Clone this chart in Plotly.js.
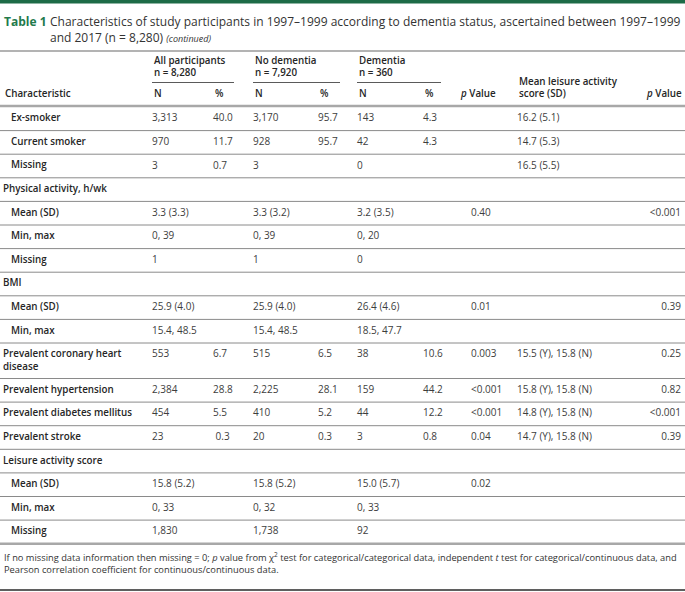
<!DOCTYPE html>
<html>
<head>
<meta charset="utf-8">
<script src="https://cdn.plot.ly/plotly-3.0.1.min.js"></script>
<style>html,body{margin:0;padding:0;background:#fff;}#chart{width:685px;height:592px;}</style>
</head>
<body>
<div id="chart"></div>
<script>
// ---------- DATA ----------
const characteristics = ["Ex-smoker","Current smoker","Missing","Physical activity, h/wk","Mean (SD)","Min, max","Missing","BMI","Mean (SD)","Min, max","Prevalent coronary heart<br>disease","Prevalent hypertension","Prevalent diabetes mellitus","Prevalent stroke","Leisure activity score","Mean (SD)","Min, max","Missing"];
const isSubItem = [true,true,true,false,true,true,true,false,true,true,false,false,false,false,false,true,true,true];
const allN     = ["3,313","970","3","","3.3 (3.3)","0, 39","1","","25.9 (4.0)","15.4, 48.5","553","2,384","454","23","","15.8 (5.2)","0, 33","1,830"];
const allPct   = ["40.0","11.7","0.7","","","","","","","","6.7","28.8","5.5","\u00a00.3","","","",""];
const noDemN   = ["3,170","928","3","","3.3 (3.2)","0, 39","1","","25.9 (4.0)","15.4, 48.5","515","2,225","410","20","","15.8 (5.2)","0, 32","1,738"];
const noDemPct = ["95.7","95.7","","","","","","","","","6.5","28.1","5.2","0.3","","","",""];
const demN     = ["143","42","0","","3.2 (3.5)","0, 20","0","","26.4 (4.6)","18.5, 47.7","38","159","44","3","","15.0 (5.7)","0, 33","92"];
const demPct   = ["4.3","4.3","","","","","","","","","10.6","44.2","12.2","0.8","","","",""];
const pValue   = ["","","","","0.40","","","","0.01","","0.003","<0.001","<0.001","0.04","","0.02","",""];
const meanLeisure = ["16.2 (5.1)","14.7 (5.3)","16.5 (5.5)","","","","","","","","15.5 (Y), 15.8 (N)","15.8 (Y), 15.8 (N)","14.8 (Y), 15.8 (N)","14.7 (Y), 15.8 (N)","","","",""];
const pValueLeisure = ["","","","","<0.001","","","","0.39","","0.25","0.82","<0.001","0.39","","","",""];
const groupTitles = ["All participants","No dementia","Dementia"];
const groupNs = ["n = 8,280","n = 7,920","n = 360"];

// ---------- LAYOUT CONSTANTS ----------
const W = 685, H = 592;
const FONT = "'Open Sans', 'Noto Sans', sans-serif";
const TXT = "#3d3d3d", BOLD = "#262626";
const tableTop = 107, rowH = 23.6, rowH2 = 35.5;
const colX = {label:3, indent:11, allN:152, allPct:213, noN:253, noPct:318, demN:357, demPct:423, p:471, mean:517, p2:681};

// row geometry
const rowTops = [], rowHeights = [];
let yy = tableTop;
characteristics.forEach(c => {
  const h = c.indexOf('<br>') >= 0 ? rowH2 : rowH;
  rowTops.push(yy); rowHeights.push(h); yy += h;
});
const tableBottom = yy;
const firstLineY = rowTops.map(t => t + 11.8);
const centerY = rowTops.map((t,i) => t + rowHeights[i]/2);

function col(x, vals, pos){
  return {
    type:'scatter', mode:'text', x: vals.map(()=>x), y: firstLineY, text: vals,
    textposition: pos || 'middle right', hoverinfo:'skip', showlegend:false,
    textfont:{family:FONT, size:10, color:TXT},
    cliponaxis:false
  };
}

const traces = [
  {
    type:'scatter', mode:'text',
    x: isSubItem.map(s => s ? colX.indent : colX.label),
    y: centerY, text: characteristics, textposition:'middle right',
    hoverinfo:'skip', showlegend:false, cliponaxis:false,
    textfont:{family:FONT, size:9.8, color:BOLD, weight:600}
  },
  col(colX.allN, allN), col(colX.allPct, allPct),
  col(colX.noN, noDemN), col(colX.noPct, noDemPct),
  col(colX.demN, demN), col(colX.demPct, demPct),
  col(colX.p, pValue), col(colX.mean, meanLeisure),
  col(colX.p2, pValueLeisure, 'middle left')
];

// ---------- SHAPES ----------
const shapes = [];
function hline(y, x0, x1, color, width){
  shapes.push({type:'line', xref:'x', yref:'y', x0:x0, x1:x1, y0:y, y1:y, line:{color:color, width:width}});
}
shapes.push({type:'rect', xref:'x', yref:'y', x0:0, x1:W, y0:0, y1:3.5, fillcolor:'#1d6b47', line:{width:0}});
hline(51, 0, W, '#9a9a9a', 1.5);
const groupX = [colX.allN, colX.noN, colX.demN];
const groupEnd = [234, 340, 441];
groupX.forEach((x,i) => hline(82.5, x, groupEnd[i], '#5a5a5a', 1));
hline(106, 0, W, '#a8a8a8', 2.5);
rowTops.slice(1).forEach(t => hline(t, 0, W, '#8a8a8a', 1));
hline(tableBottom, 0, W, '#a8a8a8', 2.5);
hline(590, 0, W, '#2a2a2a', 1.5);

// ---------- ANNOTATIONS ----------
const ann = [];
function txt(x, y, text, opts){
  opts = opts || {};
  ann.push(Object.assign({
    xref:'x', yref:'y', x:x, y:y, text:text, showarrow:false,
    xanchor:'left', yanchor:'middle', align:'left',
    font:{family:FONT, size:10, color:TXT}
  }, opts));
}
// title
txt(2, 21, "<b>Table 1</b>", {font:{family:FONT, size:12, color:'#237a4c'}});
txt(48, 21, "Characteristics of study participants in 1997–1999 according to dementia status, ascertained between 1997–1999", {font:{family:FONT, size:12, color:'#333'}});
txt(48, 37, "and 2017 (n = 8,280) <i><span style='font-size:9px'>(continued)</span></i>", {font:{family:FONT, size:12, color:'#333'}});
// header
const hb = {family:FONT, size:9.8, color:BOLD, weight:600};
groupX.forEach((x,i) => {
  txt(x, 60, groupTitles[i], {font:hb});
  txt(x, 72, groupNs[i], {font:hb});
});
txt(colX.label, 93, "Characteristic", {font:hb});
[colX.allN, colX.noN, colX.demN].forEach(x => txt(x, 93, "N", {font:hb}));
[colX.allPct, colX.noPct, colX.demPct].forEach(x => txt(x, 93, "%", {font:hb}));
txt(458, 93, "<i>p</i> Value", {font:hb});
txt(colX.mean, 81, "Mean leisure activity", {font:hb});
txt(colX.mean, 93, "score (SD)", {font:hb});
txt(684, 93, "<i>p</i> Value", {font:hb, xanchor:'right', align:'right'});
// footnote
const fn = {family:FONT, size:9.3, color:'#333'};
txt(2, 557, "If no missing data information then missing = 0; <i>p</i> value from χ<sup>2</sup> test for categorical/categorical data, independent <i>t</i> test for categorical/continuous data, and", {font:fn});
txt(2, 569, "Pearson correlation coefficient for continuous/continuous data.", {font:fn});

const layout = {
  width:W, height:H, margin:{l:0,r:0,t:0,b:0},
  paper_bgcolor:'#fff', plot_bgcolor:'#fff',
  xaxis:{range:[0,W], visible:false, fixedrange:true},
  yaxis:{range:[H,0], visible:false, fixedrange:true},
  shapes:shapes, annotations:ann, showlegend:false
};
Plotly.newPlot('chart', traces, layout, {staticPlot:true, displayModeBar:false});
</script>
</body>
</html>
